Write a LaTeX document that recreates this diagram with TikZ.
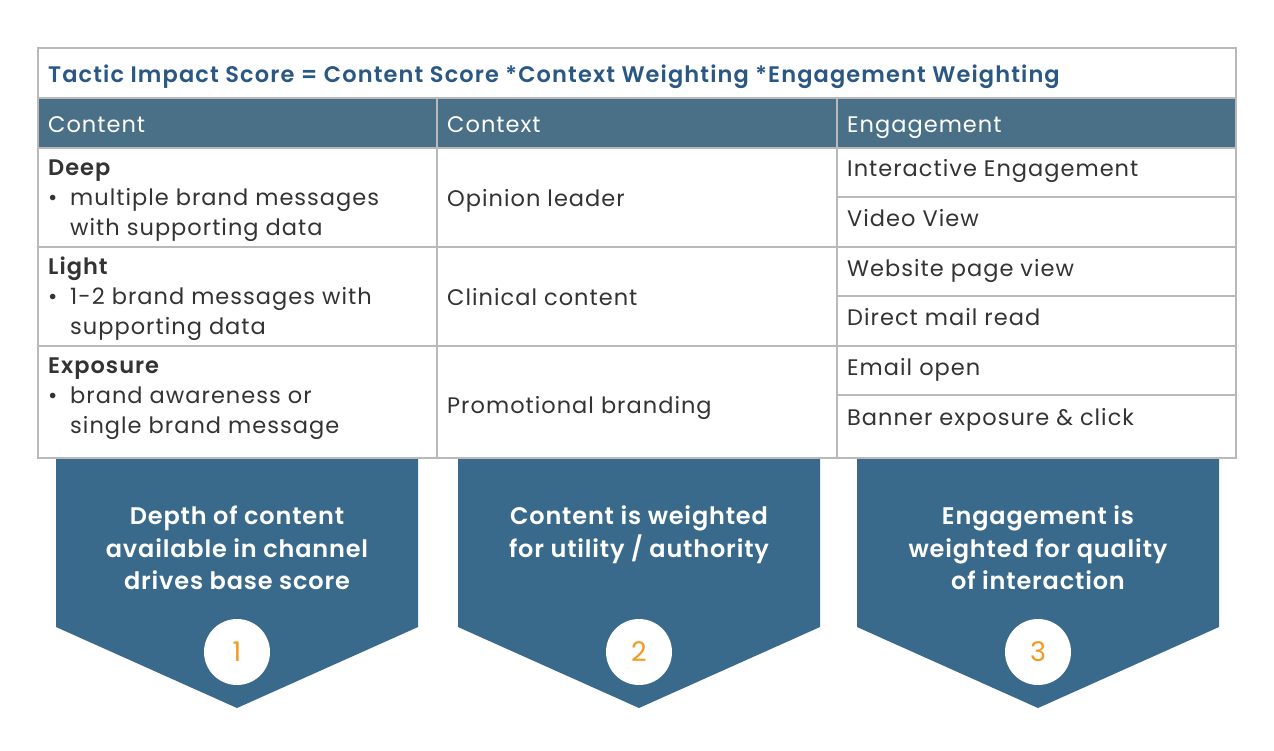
\documentclass[tikz,border=0pt]{standalone}
\usepackage{fontspec}
\setmainfont{Poppins}
\newfontfamily\bodyfont[LetterSpace=4.5]{Poppins}
\newfontfamily\chevfont[LetterSpace=3.5]{Poppins SemiBold}
\newfontfamily\titlefont[LetterSpace=5]{Poppins SemiBold}
\newfontfamily\labfont[LetterSpace=4.5]{Poppins SemiBold}
\begin{document}
\begin{tikzpicture}[x=1pt,y=-1pt,
  grid/.style={draw=gray!55,line width=1.2pt},
  hdr/.style={fill=hdrblue},
  body/.style={anchor=base west,text=bodygray,font=\bodyfont\fontsize{22.5}{30}\selectfont,inner sep=0pt},
  lab/.style={anchor=base west,text=bodygray,font=\labfont\fontsize{22.5}{30}\selectfont,inner sep=0pt},
  hdrtxt/.style={anchor=base west,text=white,font=\bodyfont\fontsize{22.5}{30}\selectfont,inner sep=0pt},
  chev/.style={fill=chevblue},
  chevtxt/.style={anchor=base,text=white,font=\chevfont\fontsize{24}{32}\selectfont,inner sep=0pt},
  numc/.style={circle,fill=white,minimum size=66pt,inner sep=0pt,text=numorange,font=\fontsize{27}{27}\selectfont}]
\definecolor{hdrblue}{HTML}{4A7088}
\definecolor{chevblue}{HTML}{3A6A8B}
\definecolor{bodygray}{HTML}{333333}
\definecolor{titleblue}{HTML}{2A5884}
\definecolor{numorange}{HTML}{F39A1E}
\useasboundingbox[fill=white] (0,0) rectangle (1274,750);
% header fill
\fill[hdr] (38,98) rectangle (1236,148);
% grid
\draw[grid] (38,48) rectangle (1236,458);
\draw[grid] (38,98) -- (1236,98);
\draw[grid] (38,148) -- (1236,148);
\draw[grid] (38,247) -- (1236,247);
\draw[grid] (38,346) -- (1236,346);
\draw[grid] (837,197) -- (1236,197);
\draw[grid] (837,296) -- (1236,296);
\draw[grid] (837,395) -- (1236,395);
\draw[grid] (437,98) -- (437,458);
\draw[grid] (837,98) -- (837,458);
% title
\node[anchor=base west,inner sep=0pt,text=titleblue,font=\titlefont\fontsize{22.5}{24}\selectfont] (title) at (48,82) {Tactic Impact Score = Content Score *Context Weighting *Engagement Weighting};
% headers
\node[hdrtxt] (h1) at (48,132) {Content};
\node[hdrtxt] (h2) at (447,132) {Context};
\node[hdrtxt] (h3) at (847,132) {Engagement};
% content column
\node[lab] (deep) at (48,175) {Deep};
\node[body] (b1) at (48,205.5) {\textbullet};
\node[body] (deep1) at (70,205.5) {multiple brand messages};
\node[body] (deep2) at (70,235.5) {with supporting data};
\node[lab] (light) at (48,274.5) {Light};
\node[body] (b2) at (48,304.5) {\textbullet};
\node[body] (light1) at (70,304.5) {1-2 brand messages with};
\node[body] (light2) at (70,334.5) {supporting data};
\node[lab] (expo) at (48,373.5) {Exposure};
\node[body] (b3) at (48,403.5) {\textbullet};
\node[body] (expo1) at (70,403.5) {brand awareness or};
\node[body] (expo2) at (70,433.5) {single brand message};
% context column
\node[body] (c1) at (447,206) {Opinion leader};
\node[body] (c2) at (447,305) {Clinical content};
\node[body] (c3) at (447,413) {Promotional branding};
% engagement column
\node[body] (e1) at (847,176) {Interactive Engagement};
\node[body] (e2) at (847,226) {Video View};
\node[body] (e3) at (847,276) {Website page view};
\node[body] (e4) at (847,325) {Direct mail read};
\node[body] (e5) at (847,375) {Email open};
\node[body] (e6) at (847,425) {Banner exposure \& click};
% chevrons
\foreach \L/\cx/\nm in {56/237/a,458/639/b,857/1038/c} {
  \fill[chev] (\L,459) -- (\L+362,459) -- (\L+362,627) -- (\cx,708) -- (\L,627) -- cycle;
}
\node[chevtxt] (t1a) at (237,524) {Depth of content};
\node[chevtxt] (t1b) at (237,557) {available in channel};
\node[chevtxt] (t1c) at (237,589) {drives base score};
\node[chevtxt] (t2a) at (639,524) {Content is weighted};
\node[chevtxt] (t2b) at (639,557) {for utility / authority};
\node[chevtxt] (t3a) at (1038,524) {Engagement is};
\node[chevtxt] (t3b) at (1038,557) {weighted for quality};
\node[chevtxt] (t3c) at (1038,589) {of interaction};
\node[numc] (n1) at (237,652) {1};
\node[numc] (n2) at (639,652) {2};
\node[numc] (n3) at (1038,652) {3};
\end{tikzpicture}
\end{document}
